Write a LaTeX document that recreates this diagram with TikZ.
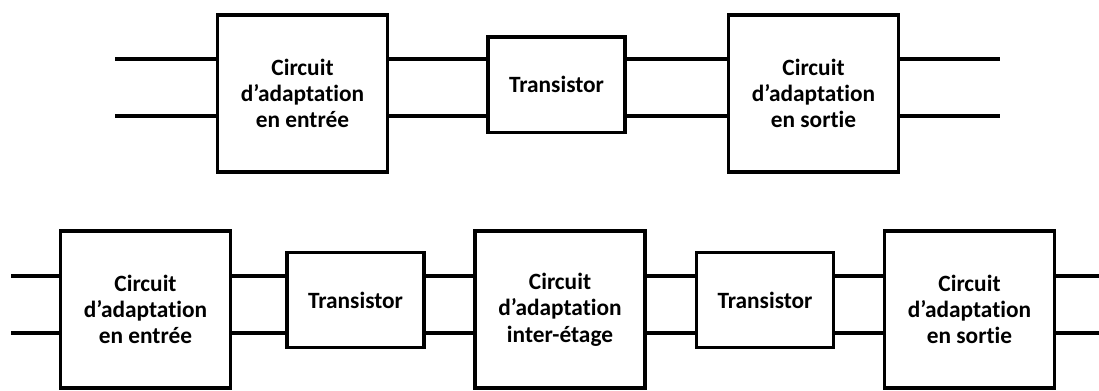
\documentclass[tikz,border=0pt]{standalone}
\usepackage{fontspec}
\setmainfont{Carlito}[Ligatures=NoCommon]
\usepackage{tikz}

\begin{document}
\begin{tikzpicture}[x=0.025cm, y=-0.025cm,
    bloc/.style={draw, line width=2.3pt, inner sep=0pt, align=center,
        minimum width=4.25cm, minimum height=3.92cm,
        font=\fontsize{16.6}{18.7}\selectfont\bfseries},
    trans/.style={bloc, minimum width=3.42cm, minimum height=2.38cm},
    fil/.style={line width=2.3pt}]
    \useasboundingbox (0,0) rectangle (1099,390);

    % amplificateur a un etage
    \node[bloc] (e1) at (302.5,93.5) {Circuit\\d’adaptation\\en entrée};
    \node[trans] (t1) at (556.5,84.5) {Transistor};
    \node[bloc] (s1) at (813.5,93.5) {Circuit\\d’adaptation\\en sortie};
    \coordinate (a1) at (115,59);
    \coordinate (a2) at (115,116);
    \coordinate (z1) at (1000,59);
    \coordinate (z2) at (1000,116);
    \foreach \k in {1,2}{
        \draw[fil] (a\k) -- (e1.west |- a\k);
        \draw[fil] (e1.east |- a\k) -- (t1.west |- a\k);
        \draw[fil] (t1.east |- a\k) -- (s1.west |- a\k);
        \draw[fil] (s1.east |- a\k) -- (z\k);
    }

    % amplificateur a deux etages
    \node[bloc] (e2) at (145.5,309.5) {Circuit\\d’adaptation\\en entrée};
    \node[trans] (t2) at (355.5,300) {Transistor};
    \node[bloc] (m2) at (560,309.5) {Circuit\\d’adaptation\\inter-étage};
    \node[trans] (t3) at (765,300) {Transistor};
    \node[bloc] (s2) at (969.5,309.5) {Circuit\\d’adaptation\\en sortie};
    \coordinate (b1) at (11,276);
    \coordinate (b2) at (11,333);
    \coordinate (y1) at (1099,276);
    \coordinate (y2) at (1099,333);
    \foreach \k in {1,2}{
        \draw[fil] (b\k) -- (e2.west |- b\k);
        \draw[fil] (e2.east |- b\k) -- (t2.west |- b\k);
        \draw[fil] (t2.east |- b\k) -- (m2.west |- b\k);
        \draw[fil] (m2.east |- b\k) -- (t3.west |- b\k);
        \draw[fil] (t3.east |- b\k) -- (s2.west |- b\k);
        \draw[fil] (s2.east |- b\k) -- (y\k);
    }
\end{tikzpicture}
\end{document}
